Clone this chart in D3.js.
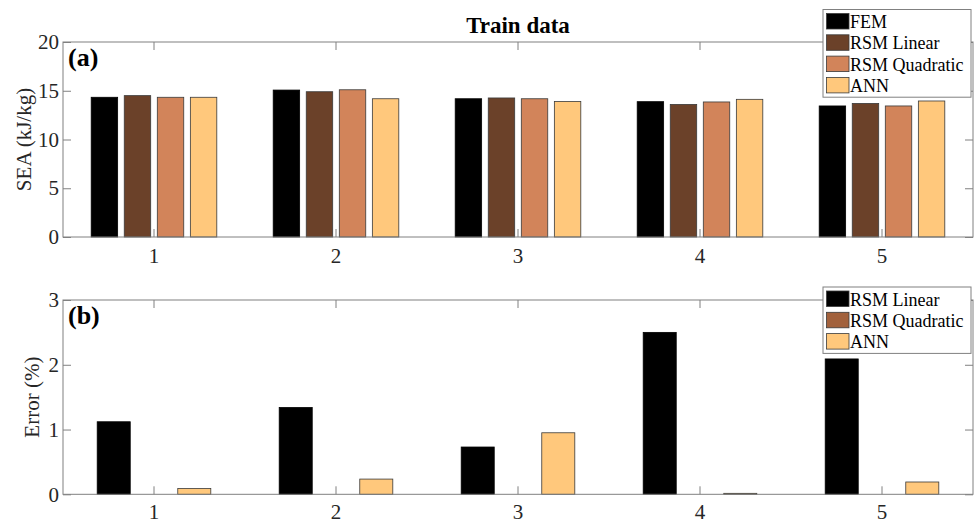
<!DOCTYPE html>
<html>
<head>
<meta charset="utf-8">
<script src="https://cdn.jsdelivr.net/npm/d3@7"></script>
<style>
  body { margin: 0; background: #fff; }
  svg { display: block; font-family: "Liberation Serif", "Times New Roman", serif; }
</style>
</head>
<body>
<script>
// categories
var groups = ["1", "2", "3", "4", "5"];
var seaSeries = ["FEM", "RSM Linear", "RSM Quadratic", "ANN"];
var errSeries = ["RSM Linear", "RSM Quadratic", "ANN"];

// SEA (kJ/kg), train data
var seaFEM = [14.33, 15.07, 14.18, 13.88, 13.44];
var seaLinear = [14.5, 14.9, 14.26, 13.6, 13.7];
var seaQuadratic = [14.33, 15.1, 14.18, 13.85, 13.44];
var seaANN = [14.33, 14.18, 13.9, 14.12, 13.95];

// Error (%)
var errLinear = [1.12, 1.34, 0.73, 2.5, 2.09];
var errQuadratic = [0, 0, 0, 0, 0];
var errANN = [0.09, 0.235, 0.95, 0.015, 0.19];

var seaTicks = [0, 5, 10, 15, 20];
var errTicks = [0, 1, 2, 3];

var seaColors = ["#000000", "#6b4129", "#d2845a", "#ffc87c"];
var errColors = ["#000000", "#a2613c", "#ffc87c"];

var W = 976, H = 524;
var left = 63, right = 973;
var axisGray = "#808080";

var svg = d3.select("body").append("svg")
    .attr("width", W)
    .attr("height", H);

var x0 = d3.scaleBand().domain(groups).range([left, right]);

function panel(opt) {
    var g = svg.append("g");
    var y = d3.scaleLinear().domain(opt.domain).range([opt.bottom, opt.top]);
    var x1 = d3.scaleBand().domain(opt.series)
        .range([-opt.half, opt.half]).paddingInner(opt.pad);

    // bars
    opt.series.forEach(function (s, i) {
        var vals = opt.values[i];
        g.append("g").selectAll("rect").data(groups).enter().append("rect")
            .attr("x", function (d) { return x0(d) + x0.bandwidth() / 2 + x1(s); })
            .attr("width", x1.bandwidth())
            .attr("y", function (d, j) { return y(vals[j]); })
            .attr("height", function (d, j) { return y(0) - y(vals[j]); })
            .attr("fill", opt.colors[i])
            .attr("stroke", i == 0 ? "#000" : "#3a3a3a")
            .attr("stroke-width", 0.8)
            .style("display", function (d, j) { return vals[j] > 0 ? null : "none"; });
    });

    // axes, ticks inside on all four sides
    var yl = g.append("g").attr("transform", "translate(" + left + ",0)")
        .call(d3.axisLeft(y).tickValues(opt.ticks).tickFormat(d3.format("d"))
            .tickSize(-8).tickSizeOuter(0).tickPadding(4));
    var yr = g.append("g").attr("transform", "translate(" + right + ",0)")
        .call(d3.axisRight(y).tickValues(opt.ticks).tickSize(-8).tickSizeOuter(0).tickFormat(""));
    var xb = g.append("g").attr("transform", "translate(0," + opt.bottom + ")")
        .call(d3.axisBottom(x0).tickSize(-8).tickSizeOuter(0).tickPadding(opt.xpad));
    var xt = g.append("g").attr("transform", "translate(0," + opt.top + ")")
        .call(d3.axisTop(x0).tickSize(-8).tickSizeOuter(0).tickFormat(""));

    [yl, yr, xb, xt].forEach(function (a) {
        a.select(".domain").remove();
        a.selectAll("line").attr("stroke", axisGray);
        a.selectAll("text").attr("fill", "#262626")
            .style("font-size", "21px")
            .style("font-family", "Liberation Serif, serif");
    });

    g.append("rect")
        .attr("x", left).attr("y", opt.top)
        .attr("width", right - left).attr("height", opt.bottom - opt.top)
        .attr("fill", "none").attr("stroke", axisGray).attr("stroke-width", 1);

    // y label
    g.append("text")
        .attr("transform", "translate(" + opt.ylabelX + "," + ((opt.top + opt.bottom) / 2) + ")rotate(-90)")
        .attr("dy", "0.35em")
        .attr("text-anchor", "middle")
        .attr("fill", "#262626")
        .style("font-size", "21px")
        .text(opt.ylabel);

    // panel tag
    g.append("text")
        .attr("x", 68).attr("y", opt.top + 24)
        .style("font-size", "26px").style("font-weight", "bold")
        .attr("fill", "#000")
        .text(opt.tag);

    // legend
    var lg = g.append("g").attr("transform", "translate(823," + opt.legTop + ")");
    lg.append("rect")
        .attr("width", 148).attr("height", opt.series.length * 21.3 + 2.5)
        .attr("fill", "#fff").attr("stroke", axisGray);
    opt.series.forEach(function (s, i) {
        lg.append("rect")
            .attr("x", 3.5).attr("y", 4 + i * 21.3)
            .attr("width", 22.5).attr("height", 15.5)
            .attr("fill", opt.colors[i]).attr("stroke", "#3a3a3a").attr("stroke-width", 0.8);
        lg.append("text")
            .attr("x", 27).attr("y", 18.5 + i * 21.3)
            .attr("fill", "#000")
            .style("font-size", "18px")
            .text(s);
    });

    return g;
}

panel({
    top: 42, bottom: 237, domain: [0, 20], ticks: seaTicks,
    series: seaSeries, colors: seaColors,
    values: [seaFEM, seaLinear, seaQuadratic, seaANN],
    half: 62.8, pad: 0.2, xpad: 11,
    ylabel: "SEA (kJ/kg)", ylabelX: 24, tag: "(a)", legTop: 9.5
});

panel({
    top: 300, bottom: 494.3, domain: [0, 3], ticks: errTicks,
    series: errSeries, colors: errColors,
    values: [errLinear, errQuadratic, errANN],
    half: 56.8, pad: 0.18, xpad: 10,
    ylabel: "Error (%)", ylabelX: 32, tag: "(b)", legTop: 287
});

// title
svg.append("text")
    .attr("x", (left + right) / 2).attr("y", 33)
    .attr("text-anchor", "middle")
    .style("font-size", "23px").style("font-weight", "bold")
    .attr("fill", "#000")
    .text("Train data");
</script>
</body>
</html>
